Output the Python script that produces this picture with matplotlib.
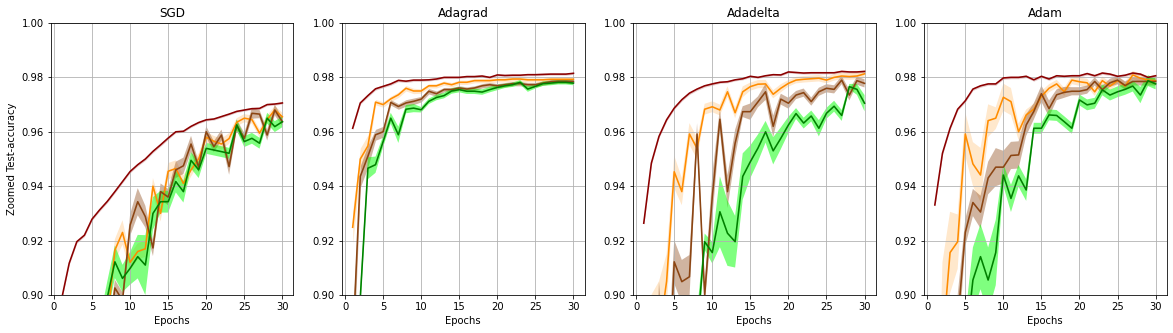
import matplotlib.pyplot as plt

epochs = list(range(1, 31))
titles = ['SGD', 'Adagrad', 'Adadelta', 'Adam']

# --- SGD ---
sgd_red = [0.8985, 0.9117, 0.9196, 0.9220, 0.9279, 0.9313, 0.9344, 0.9380, 0.9417, 0.9454,
           0.9479, 0.9500, 0.9528, 0.9552, 0.9577, 0.9600, 0.9602, 0.9620, 0.9634, 0.9644,
           0.9647, 0.9656, 0.9665, 0.9675, 0.9680, 0.9685, 0.9686, 0.9700, 0.9702, 0.9706]
sgd_orange = [0.800, 0.830, 0.850, 0.860, 0.870, 0.880, 0.890, 0.9165, 0.9230, 0.9120,
              0.9160, 0.9170, 0.9400, 0.9300, 0.9455, 0.9465, 0.9410, 0.9460, 0.9500, 0.9580,
              0.9565, 0.9555, 0.9575, 0.9635, 0.9650, 0.9645, 0.9595, 0.9645, 0.9680, 0.9655]
sgd_brown = [0.800, 0.820, 0.840, 0.850, 0.860, 0.870, 0.880, 0.9026, 0.8980, 0.9257,
             0.9343, 0.9288, 0.9173, 0.9380, 0.9360, 0.9460, 0.9475, 0.9555, 0.9470, 0.9600,
             0.9545, 0.9588, 0.9472, 0.9625, 0.9576, 0.9668, 0.9665, 0.9588, 0.9680, 0.9637]
sgd_green = [0.780, 0.810, 0.830, 0.850, 0.870, 0.885, 0.899, 0.9122, 0.9061, 0.9098,
             0.9141, 0.9110, 0.9300, 0.9343, 0.9343, 0.9417, 0.9380, 0.9495, 0.9460, 0.9539,
             0.9533, 0.9527, 0.9521, 0.9625, 0.9564, 0.9576, 0.9558, 0.9650, 0.9619, 0.9637]
sgd_red_std = [0.0006, 0.0006, 0.0005, 0.0005, 0.0005, 0.0005, 0.0005, 0.0005, 0.0005, 0.0005,
               0.0005, 0.0005, 0.0005, 0.0005, 0.0005, 0.0004, 0.0004, 0.0004, 0.0004, 0.0004,
               0.0004, 0.0004, 0.0004, 0.0004, 0.0004, 0.0004, 0.0004, 0.0004, 0.0004, 0.0004]
sgd_orange_std = [0.004, 0.004, 0.004, 0.004, 0.004, 0.004, 0.004, 0.004, 0.0045, 0.003,
                  0.003, 0.003, 0.003, 0.003, 0.003, 0.003, 0.003, 0.0025, 0.002, 0.002,
                  0.002, 0.002, 0.002, 0.0015, 0.0015, 0.0015, 0.0015, 0.0015, 0.0015, 0.0015]
sgd_brown_std = [0.004, 0.004, 0.004, 0.004, 0.004, 0.004, 0.004, 0.003, 0.003, 0.004,
                 0.005, 0.004, 0.003, 0.003, 0.003, 0.003, 0.003, 0.003, 0.002, 0.002,
                 0.002, 0.002, 0.003, 0.002, 0.002, 0.002, 0.0015, 0.002, 0.002, 0.0015]
sgd_green_std = [0.006, 0.006, 0.006, 0.006, 0.006, 0.006, 0.006, 0.006, 0.005, 0.006,
                 0.008, 0.011, 0.006, 0.004, 0.004, 0.004, 0.004, 0.003, 0.003, 0.002,
                 0.002, 0.002, 0.002, 0.002, 0.002, 0.002, 0.002, 0.002, 0.002, 0.002]

# --- Adagrad ---
agr_red = [0.9613, 0.9706, 0.9733, 0.9758, 0.9767, 0.9776, 0.9789, 0.9786, 0.9790, 0.9790,
           0.9791, 0.9794, 0.9800, 0.9800, 0.9800, 0.9803, 0.9803, 0.9805, 0.9800, 0.9809,
           0.9807, 0.9808, 0.9808, 0.9810, 0.9810, 0.9811, 0.9812, 0.9812, 0.9812, 0.9815]
agr_orange = [0.9249, 0.9500, 0.9548, 0.9709, 0.9700, 0.9721, 0.9736, 0.9760, 0.9750, 0.9750,
              0.9769, 0.9769, 0.9779, 0.9773, 0.9782, 0.9782, 0.9788, 0.9788, 0.9788, 0.9791,
              0.9791, 0.9794, 0.9794, 0.9791, 0.9791, 0.9791, 0.9793, 0.9793, 0.9793, 0.9793]
agr_brown = [0.8810, 0.9436, 0.9510, 0.9589, 0.9600, 0.9708, 0.9693, 0.9706, 0.9712, 0.9720,
             0.9749, 0.9740, 0.9755, 0.9755, 0.9761, 0.9757, 0.9761, 0.9769, 0.9773, 0.9769,
             0.9773, 0.9777, 0.9777, 0.9773, 0.9773, 0.9779, 0.9784, 0.9786, 0.9786, 0.9785]
agr_green = [0.800, 0.899, 0.9466, 0.9479, 0.9564, 0.9650, 0.9589, 0.9683, 0.9687, 0.9681,
             0.9712, 0.9726, 0.9733, 0.9750, 0.9755, 0.9749, 0.9749, 0.9746, 0.9755, 0.9763,
             0.9769, 0.9773, 0.9782, 0.9757, 0.9767, 0.9777, 0.9779, 0.9782, 0.9782, 0.9779]
agr_red_std = [0.0005, 0.0005, 0.0005, 0.0005, 0.0005, 0.0005, 0.0005, 0.0005, 0.0005, 0.0005,
               0.0004, 0.0004, 0.0004, 0.0004, 0.0004, 0.0004, 0.0004, 0.0004, 0.0004, 0.0004,
               0.0004, 0.0004, 0.0004, 0.0004, 0.0004, 0.0004, 0.0004, 0.0004, 0.0004, 0.0004]
agr_orange_std = [0.006, 0.004, 0.004, 0.001, 0.001, 0.001, 0.001, 0.001, 0.001, 0.0008,
                  0.0008, 0.0008, 0.0008, 0.0008, 0.0008, 0.0008, 0.0008, 0.0008, 0.0008, 0.0008,
                  0.0008, 0.0008, 0.0008, 0.0008, 0.0008, 0.0008, 0.0008, 0.0008, 0.0008, 0.0008]
agr_brown_std = [0.010, 0.004, 0.004, 0.002, 0.002, 0.001, 0.001, 0.0012, 0.0012, 0.001,
                 0.001, 0.001, 0.0008, 0.0008, 0.0008, 0.0008, 0.0008, 0.0008, 0.0008, 0.0008,
                 0.0008, 0.0008, 0.0008, 0.0008, 0.0008, 0.0008, 0.0008, 0.0008, 0.0008, 0.0008]
agr_green_std = [0.010, 0.004, 0.004, 0.003, 0.002, 0.002, 0.003, 0.0015, 0.0015, 0.001,
                 0.001, 0.001, 0.001, 0.001, 0.001, 0.001, 0.001, 0.001, 0.001, 0.001,
                 0.0008, 0.0008, 0.0008, 0.001, 0.0008, 0.0008, 0.0008, 0.0008, 0.0008, 0.0008]

# --- Adadelta ---
add_red = [0.9264, 0.9485, 0.9583, 0.9644, 0.9687, 0.9718, 0.9742, 0.9757, 0.9769, 0.9776,
           0.9782, 0.9784, 0.9791, 0.9795, 0.9804, 0.9800, 0.9806, 0.9810, 0.9809, 0.9820,
           0.9818, 0.9816, 0.9817, 0.9817, 0.9817, 0.9817, 0.9822, 0.9820, 0.9820, 0.9822]
add_orange = [0.820, 0.880, 0.885, 0.905, 0.9453, 0.9380, 0.9592, 0.9539, 0.9683, 0.9692,
              0.9680, 0.9747, 0.9670, 0.9747, 0.9766, 0.9775, 0.9776, 0.9738, 0.9760, 0.9778,
              0.9790, 0.9793, 0.9795, 0.9797, 0.9790, 0.9800, 0.9805, 0.9803, 0.9805, 0.9813]
add_brown = [0.800, 0.820, 0.880, 0.850, 0.9122, 0.9049, 0.9067, 0.9592, 0.9000, 0.9361,
             0.9646, 0.9380, 0.9558, 0.9674, 0.9674, 0.9710, 0.9747, 0.9620, 0.9720, 0.9705,
             0.9735, 0.9744, 0.9711, 0.9747, 0.9760, 0.9756, 0.9790, 0.9735, 0.9788, 0.9778]
add_green = [0.700, 0.720, 0.740, 0.760, 0.780, 0.800, 0.820, 0.886, 0.9196, 0.9156,
             0.9306, 0.9227, 0.9196, 0.9436, 0.9490, 0.9540, 0.9600, 0.9530, 0.9576, 0.9625,
             0.9667, 0.9632, 0.9658, 0.9613, 0.9668, 0.9694, 0.9660, 0.9766, 0.9756, 0.9705]
add_red_std = [0.0006, 0.0006, 0.0005, 0.0005, 0.0005, 0.0005, 0.0005, 0.0005, 0.0005, 0.0005,
               0.0004, 0.0004, 0.0004, 0.0004, 0.0004, 0.0004, 0.0004, 0.0004, 0.0004, 0.0004,
               0.0004, 0.0004, 0.0004, 0.0004, 0.0004, 0.0004, 0.0004, 0.0004, 0.0004, 0.0004]
add_orange_std = [0.010, 0.020, 0.020, 0.010, 0.006, 0.005, 0.004, 0.004, 0.002, 0.002,
                  0.002, 0.002, 0.002, 0.002, 0.0015, 0.0015, 0.0015, 0.0015, 0.0015, 0.0012,
                  0.0012, 0.0012, 0.0012, 0.0012, 0.0012, 0.0012, 0.0012, 0.0012, 0.0012, 0.0012]
add_brown_std = [0.010, 0.010, 0.025, 0.020, 0.008, 0.008, 0.008, 0.004, 0.004, 0.008,
                 0.004, 0.006, 0.005, 0.002, 0.003, 0.002, 0.003, 0.004, 0.002, 0.002,
                 0.0015, 0.0015, 0.0015, 0.0015, 0.0015, 0.0015, 0.0015, 0.002, 0.0015, 0.0015]
add_green_std = [0.010, 0.010, 0.010, 0.010, 0.010, 0.010, 0.010, 0.008, 0.003, 0.004,
                 0.013, 0.012, 0.0095, 0.0085, 0.006, 0.005, 0.004, 0.005, 0.004, 0.003,
                 0.002, 0.002, 0.002, 0.003, 0.002, 0.002, 0.002, 0.001, 0.002, 0.003]

# --- Adam ---
adm_red = [0.9331, 0.9521, 0.9613, 0.9683, 0.9714, 0.9757, 0.9769, 0.9776, 0.9776, 0.9798,
           0.9800, 0.9800, 0.9804, 0.9791, 0.9804, 0.9794, 0.9806, 0.9804, 0.9806, 0.9806,
           0.9814, 0.9806, 0.9816, 0.9812, 0.9804, 0.9808, 0.9816, 0.9812, 0.9800, 0.9806]
adm_orange = [0.800, 0.882, 0.9156, 0.9196, 0.9592, 0.9482, 0.9441, 0.9641, 0.9650, 0.9727,
              0.9711, 0.9600, 0.9662, 0.9683, 0.9730, 0.9760, 0.9776, 0.9747, 0.9790, 0.9784,
              0.9780, 0.9747, 0.9788, 0.9768, 0.9788, 0.9768, 0.9809, 0.9797, 0.9790, 0.9788]
adm_brown = [0.780, 0.800, 0.820, 0.890, 0.9230, 0.9340, 0.9305, 0.9430, 0.9470, 0.9470,
             0.9513, 0.9515, 0.9625, 0.9675, 0.9740, 0.9685, 0.9736, 0.9745, 0.9749, 0.9749,
             0.9755, 0.9785, 0.9755, 0.9780, 0.9790, 0.9770, 0.9785, 0.9785, 0.9785, 0.9785]
adm_green = [0.700, 0.720, 0.750, 0.780, 0.880, 0.9055, 0.9141, 0.9055, 0.9156, 0.9441,
             0.9355, 0.9438, 0.9386, 0.9613, 0.9613, 0.9662, 0.9660, 0.9637, 0.9613, 0.9717,
             0.9699, 0.9705, 0.9754, 0.9735, 0.9747, 0.9756, 0.9768, 0.9735, 0.9788, 0.9776]
adm_red_std = [0.0006, 0.0006, 0.0005, 0.0005, 0.0005, 0.0005, 0.0005, 0.0005, 0.0005, 0.0005,
               0.0005, 0.0005, 0.0005, 0.0005, 0.0005, 0.0005, 0.0005, 0.0005, 0.0005, 0.0005,
               0.0005, 0.0005, 0.0005, 0.0005, 0.0005, 0.0005, 0.0005, 0.0005, 0.0005, 0.0005]
adm_orange_std = [0.010, 0.030, 0.015, 0.010, 0.008, 0.008, 0.010, 0.006, 0.004, 0.005,
                  0.005, 0.003, 0.002, 0.002, 0.002, 0.0015, 0.0015, 0.0015, 0.0015, 0.0015,
                  0.0015, 0.0015, 0.0015, 0.0015, 0.0015, 0.0015, 0.0015, 0.0015, 0.0015, 0.0015]
adm_brown_std = [0.010, 0.010, 0.010, 0.010, 0.005, 0.005, 0.006, 0.006, 0.007, 0.006,
                 0.005, 0.005, 0.004, 0.003, 0.003, 0.003, 0.002, 0.002, 0.0015, 0.0015,
                 0.0015, 0.0015, 0.0015, 0.0015, 0.0015, 0.0015, 0.0015, 0.0015, 0.0015, 0.0015]
adm_green_std = [0.010, 0.010, 0.010, 0.010, 0.012, 0.012, 0.012, 0.012, 0.012, 0.004,
                 0.005, 0.004, 0.004, 0.002, 0.002, 0.002, 0.002, 0.002, 0.002, 0.002,
                 0.002, 0.002, 0.002, 0.002, 0.002, 0.002, 0.002, 0.003, 0.002, 0.002]

line_colors = ['darkred', 'darkorange', 'saddlebrown', 'green']
band_colors = ['darkred', 'darkorange', 'saddlebrown', 'lime']
band_alpha = [0.2, 0.2, 0.4, 0.5]

runs = [
    [(sgd_red, sgd_red_std), (sgd_orange, sgd_orange_std), (sgd_brown, sgd_brown_std), (sgd_green, sgd_green_std)],
    [(agr_red, agr_red_std), (agr_orange, agr_orange_std), (agr_brown, agr_brown_std), (agr_green, agr_green_std)],
    [(add_red, add_red_std), (add_orange, add_orange_std), (add_brown, add_brown_std), (add_green, add_green_std)],
    [(adm_red, adm_red_std), (adm_orange, adm_orange_std), (adm_brown, adm_brown_std), (adm_green, adm_green_std)],
]

# reference looks like a 72 dpi render
fig, axes = plt.subplots(1, 4, figsize=(1173 / 72, 333 / 72), dpi=72)
fig.subplots_adjust(left=0.0431, right=0.9946, bottom=0.1141, top=0.931, wspace=0.1985)

for ax, title, series in zip(axes, titles, runs):
    for k, (mean, std) in enumerate(series):
        lo = [m - s for m, s in zip(mean, std)]
        hi = [m + s for m, s in zip(mean, std)]
        ax.fill_between(epochs, lo, hi, color=band_colors[k], alpha=band_alpha[k], linewidth=0)
    for k, (mean, std) in enumerate(series):
        ax.plot(epochs, mean, color=line_colors[k], linewidth=1.6)
    ax.set_ylim(0.9, 1.0)
    ax.set_title(title)
    ax.set_xlabel('Epochs')
    ax.grid(True)

axes[0].set_ylabel('Zoomed Test-accuracy')

plt.savefig('out.png', dpi=72)
